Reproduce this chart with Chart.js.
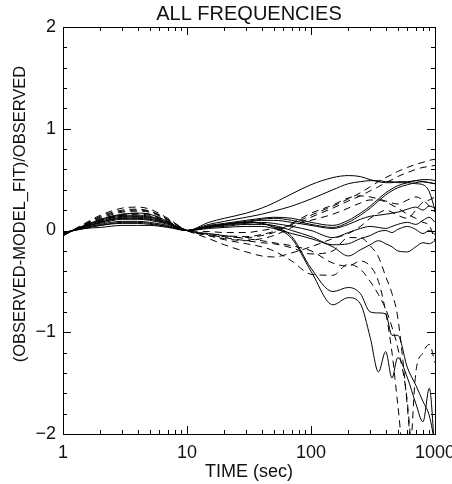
<!DOCTYPE html>
<html>
<head>
<meta charset="utf-8">
<script src="https://cdn.jsdelivr.net/npm/chart.js@4/dist/chart.umd.min.js"></script>
<style>
    body { margin: 0; background: #fff; }
    canvas { display: block; }
</style>
</head>
<body>
<canvas id="residChart" width="452" height="484"></canvas>
<script>
// time axis (sec), shared by every curve
const times = [1, 1.5, 2, 3, 4, 5, 7, 10, 15, 20, 30, 40, 50, 70, 100, 150, 200, 250, 300, 350, 400, 450, 500, 600, 700, 800, 900, 1000];

// solid curves
const solid1 = [-0.04, 0.05, 0.11, 0.16, 0.17, 0.16, 0.09, 0, 0.08, 0.12, 0.17, 0.22, 0.27, 0.36, 0.45, 0.52, 0.54, 0.53, 0.50, 0.48, 0.47, 0.47, 0.48, 0.48, 0.49, 0.48, 0.47, 0.46];
const solid2 = [-0.04, 0.05, 0.10, 0.15, 0.15, 0.14, 0.08, 0, 0.06, 0.09, 0.13, 0.16, 0.19, 0.24, 0.31, 0.40, 0.46, 0.48, 0.49, 0.49, 0.48, 0.48, 0.47, 0.47, 0.46, 0.45, 0.38, 0.20];
const solid3 = [-0.04, 0.04, 0.08, 0.12, 0.12, 0.11, 0.07, 0, 0.05, 0.07, 0.10, 0.12, 0.13, 0.12, 0.08, 0.05, 0.10, 0.17, 0.24, 0.31, 0.37, 0.41, 0.44, 0.47, 0.49, 0.50, 0.50, 0.49];
const solid4 = [-0.03, 0.04, 0.07, 0.11, 0.11, 0.10, 0.06, 0, 0.04, 0.06, 0.09, 0.11, 0.12, 0.10, 0.06, 0.03, 0.08, 0.15, 0.22, 0.29, 0.35, 0.39, 0.42, 0.45, 0.47, 0.48, 0.47, 0.46];
const solid5 = [-0.03, 0.03, 0.06, 0.09, 0.09, 0.08, 0.05, 0, 0.04, 0.06, 0.08, 0.10, 0.10, 0.08, 0.05, 0.02, 0.06, 0.11, 0.14, 0.15, 0.16, 0.17, 0.18, 0.21, 0.23, 0.20, 0.24, 0.22];
const solid6 = [-0.03, 0.03, 0.05, 0.08, 0.08, 0.07, 0.04, 0, 0.03, 0.05, 0.07, 0.08, 0.07, 0.04, 0.00, -0.07, -0.02, 0.02, 0.04, 0.03, 0.02, 0.04, 0.06, 0.08, 0.06, 0.10, 0.13, 0.08];
const solid7 = [-0.02, 0.02, 0.05, 0.07, 0.07, 0.06, 0.04, 0, 0.03, 0.04, 0.06, 0.06, 0.05, 0.00, -0.06, -0.14, -0.13, -0.08, -0.05, -0.01, 0.00, -0.02, 0.01, 0.04, 0.01, -0.03, 0.00, -0.04];
const solid8 = [-0.02, 0.02, 0.03, 0.05, 0.05, 0.05, 0.03, 0, 0.02, 0.03, 0.04, 0.04, 0.02, -0.03, -0.08, -0.16, -0.25, -0.19, -0.14, -0.10, -0.13, -0.16, -0.20, -0.21, -0.16, -0.12, -0.13, -0.10];
const solid9 = [-0.04, 0.05, 0.09, 0.14, 0.14, 0.13, 0.08, 0, 0.04, 0.06, 0.08, 0.07, 0.04, -0.06, -0.37, -0.60, -0.56, -0.62, -0.80, -0.81, -0.82, -1.03, -1.03, -1.35, -1.52, -1.68, -1.82, -2.10];
const solid10 = [-0.04, 0.04, 0.08, 0.13, 0.13, 0.12, 0.07, 0, 0.04, 0.06, 0.08, 0.07, 0.03, -0.08, -0.40, -0.73, -0.66, -0.72, -1.05, -1.39, -1.19, -1.45, -1.25, -1.45, -1.70, -1.88, -1.55, -2.20];

// dashed curves
const dashed1 = [-0.05, 0.07, 0.15, 0.22, 0.23, 0.21, 0.12, 0, -0.03, -0.05, -0.06, -0.04, -0.01, 0.06, 0.15, 0.24, 0.31, 0.37, 0.43, 0.48, 0.52, 0.55, 0.58, 0.62, 0.65, 0.67, 0.69, 0.70];
const dashed2 = [-0.05, 0.06, 0.14, 0.20, 0.21, 0.19, 0.11, 0, -0.05, -0.08, -0.10, -0.08, -0.05, 0.03, 0.13, 0.22, 0.29, 0.34, 0.39, 0.43, 0.47, 0.50, 0.53, 0.57, 0.60, 0.62, 0.63, 0.64];
const dashed3 = [-0.05, 0.06, 0.12, 0.18, 0.19, 0.18, 0.10, 0, -0.04, -0.06, -0.07, -0.05, -0.02, 0.07, 0.17, 0.25, 0.32, 0.34, 0.33, 0.31, 0.29, 0.27, 0.26, 0.30, 0.33, 0.30, 0.24, 0.18];
const dashed4 = [-0.04, 0.05, 0.11, 0.16, 0.17, 0.16, 0.09, 0, -0.08, -0.14, -0.21, -0.25, -0.26, -0.22, -0.16, -0.08, -0.03, 0.04, 0.12, 0.17, 0.20, 0.18, 0.15, 0.12, 0.20, 0.28, 0.30, 0.33];
const dashed5 = [-0.04, 0.04, 0.09, 0.14, 0.14, 0.13, 0.08, 0, -0.04, -0.07, -0.10, -0.12, -0.13, -0.17, -0.23, -0.20, -0.07, -0.07, -0.15, -0.26, -0.45, -0.62, -0.85, -1.75, -2.80, null, null, null];
const dashed6 = [-0.05, 0.06, 0.13, 0.19, 0.20, 0.19, 0.11, 0, -0.05, -0.09, -0.13, -0.16, -0.20, -0.30, -0.43, -0.44, -0.33, -0.38, -0.50, -0.63, -0.77, -0.95, -1.15, -1.70, -2.80, null, null, null];
const dashed7 = [-0.04, 0.05, 0.10, 0.15, 0.16, 0.15, 0.09, 0, -0.03, -0.05, -0.08, -0.10, -0.12, -0.15, -0.20, -0.32, -0.35, -0.30, -0.35, -0.50, -0.80, -1.20, -1.70, -2.50, -1.40, -1.20, -1.12, -1.30];
const dashed8 = [-0.04, 0.04, 0.08, 0.12, 0.12, 0.11, 0.07, 0, -0.01, -0.02, -0.02, 0.00, 0.02, 0.05, 0.10, 0.16, 0.22, 0.27, 0.30, 0.30, 0.28, 0.25, 0.22, 0.16, 0.12, 0.08, 0.05, -0.10];

const solidSeries = [solid1, solid2, solid3, solid4, solid5, solid6, solid7, solid8, solid9, solid10];
const dashedSeries = [dashed1, dashed2, dashed3, dashed4, dashed5, dashed6, dashed7, dashed8];

// axis ticks
const xMajorTicks = [1, 10, 100, 1000];
const yMajorTicks = [-2, -1, 0, 1, 2];

function toPoints(values) {
    return times.map((t, i) => ({ x: t, y: values[i] }));
}

function lineDataset(values, dashed) {
    return {
        data: toPoints(values),
        borderColor: '#000',
        borderWidth: 1,
        borderDash: dashed ? [7, 5] : [],
        pointRadius: 0,
        fill: false,
        cubicInterpolationMode: 'monotone'
    };
}

// IDL style box: inward ticks on all four sides, plus the texts
const idlFrame = {
    id: 'idlFrame',
    afterDraw(chart) {
        const ctx = chart.ctx;
        const a = chart.chartArea;
        const xs = chart.scales.x;
        const ys = chart.scales.y;
        const major = 8, minor = 4;

        ctx.save();
        ctx.strokeStyle = '#000';
        ctx.lineWidth = 1;
        ctx.strokeRect(a.left + 0.5, a.top + 0.5, a.right - a.left, a.bottom - a.top);

        ctx.beginPath();
        // x ticks (bottom and top)
        xMajorTicks.forEach(function (v, k) {
            const px = Math.round(xs.getPixelForValue(v)) + 0.5;
            ctx.moveTo(px, a.bottom); ctx.lineTo(px, a.bottom - major);
            ctx.moveTo(px, a.top); ctx.lineTo(px, a.top + major);
            if (k < xMajorTicks.length - 1) {
                for (let m = 2; m <= 9; m++) {
                    const pm = Math.round(xs.getPixelForValue(m * v)) + 0.5;
                    ctx.moveTo(pm, a.bottom); ctx.lineTo(pm, a.bottom - minor);
                    ctx.moveTo(pm, a.top); ctx.lineTo(pm, a.top + minor);
                }
            }
        });
        // y ticks (left and right), minor every 0.2
        for (let i = 0; i <= 20; i++) {
            const v = -2 + i * 0.2;
            const py = Math.round(ys.getPixelForValue(v)) + 0.5;
            const len = (i % 5 === 0) ? major : minor;
            ctx.moveTo(a.left, py); ctx.lineTo(a.left + len, py);
            ctx.moveTo(a.right, py); ctx.lineTo(a.right - len, py);
        }
        ctx.stroke();

        ctx.fillStyle = '#111';
        ctx.font = '18px "Liberation Sans", Arial, sans-serif';
        ctx.textAlign = 'center';
        ctx.textBaseline = 'alphabetic';
        xMajorTicks.forEach(function (v) {
            ctx.fillText(String(v), xs.getPixelForValue(v), 458);
        });
        ctx.textAlign = 'right';
        ctx.textBaseline = 'middle';
        yMajorTicks.forEach(function (v) {
            const label = v < 0 ? '\u2212' + Math.abs(v) : String(v);
            ctx.fillText(label, 56, ys.getPixelForValue(v));
        });

        // titles
        const cx = (a.left + a.right) / 2;
        ctx.textAlign = 'center';
        ctx.textBaseline = 'alphabetic';
        ctx.font = '20px "Liberation Sans", Arial, sans-serif';
        ctx.fillText('ALL FREQUENCIES', cx, 20);
        ctx.font = '18px "Liberation Sans", Arial, sans-serif';
        ctx.fillText('TIME (sec)', cx, 477);

        ctx.translate(25, 214);
        ctx.rotate(-Math.PI / 2);
        ctx.font = '16.5px "Liberation Sans", Arial, sans-serif';
        ctx.fillText('(OBSERVED-MODEL_FIT)/OBSERVED', 0, 0);
        ctx.restore();
    }
};

document.addEventListener('DOMContentLoaded', function () {
    const datasets = [];
    dashedSeries.forEach(s => datasets.push(lineDataset(s, true)));
    solidSeries.forEach(s => datasets.push(lineDataset(s, false)));

    new Chart(document.getElementById('residChart'), {
        type: 'line',
        data: { datasets: datasets },
        options: {
            responsive: false,
            animation: false,
            events: [],
            layout: { padding: { left: 63, right: 17, top: 27, bottom: 50 } },
            plugins: {
                legend: { display: false },
                tooltip: { enabled: false }
            },
            scales: {
                x: { type: 'logarithmic', min: 1, max: 1000, display: false },
                y: { type: 'linear', min: -2, max: 2, display: false }
            }
        },
        plugins: [idlFrame]
    });
});
</script>
</body>
</html>
